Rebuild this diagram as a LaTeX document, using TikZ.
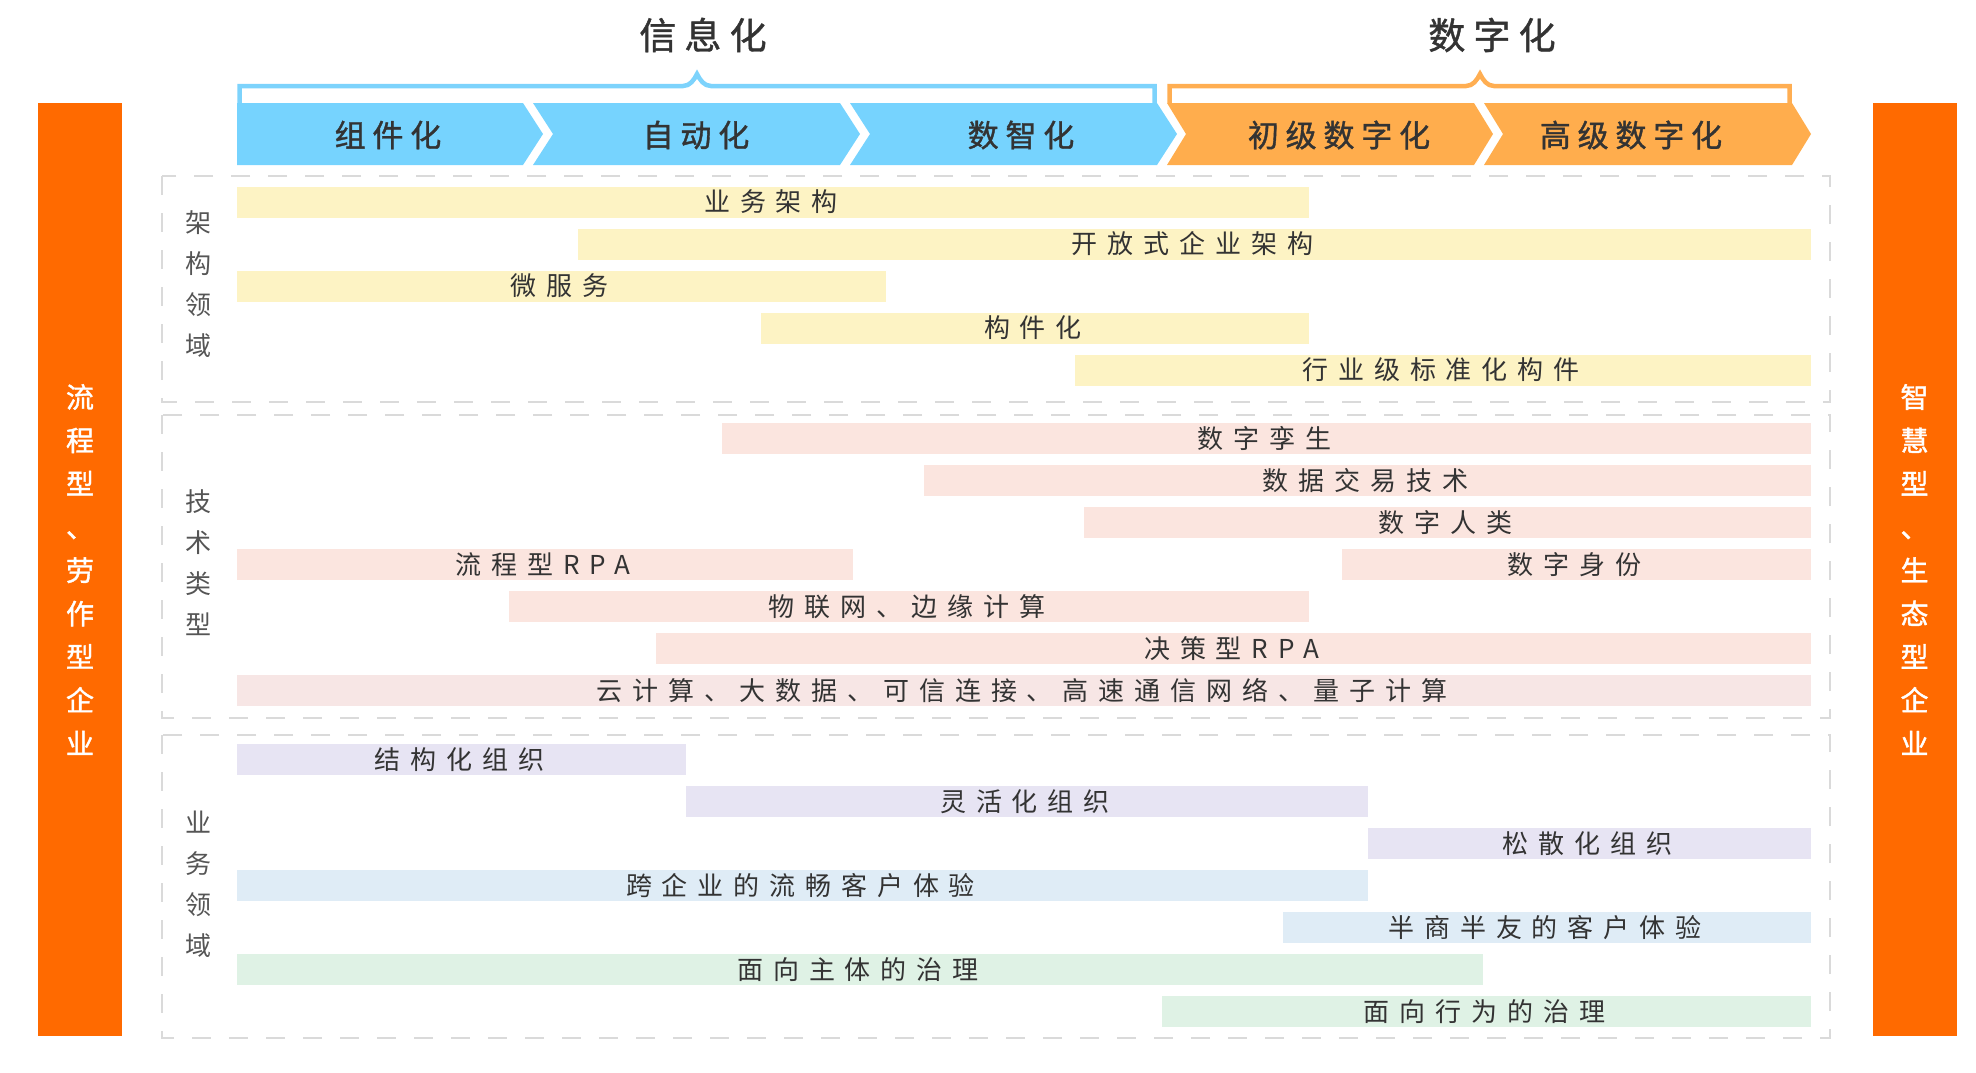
\documentclass[tikz,border=0pt]{standalone}
\usepackage{fontspec}
\newfontfamily\cjk{Noto Sans CJK SC}
\newfontfamily\cjkbar[LetterSpace=38]{Noto Sans CJK SC}
\newfontfamily\cjkhead[LetterSpace=22,FakeBold=1.2]{Noto Sans CJK SC}
\newfontfamily\cjkbold[FakeBold=1.4]{Noto Sans CJK SC}
\definecolor{sideorange}{HTML}{FF6A00}
\definecolor{chevblue}{HTML}{76D3FE}
\definecolor{chevorange}{HTML}{FFAD4D}
\definecolor{brblue}{HTML}{7DD3FC}
\definecolor{brorange}{HTML}{FFAE52}
\definecolor{barY}{HTML}{FDF3C4}
\definecolor{barP}{HTML}{FBE5DF}
\definecolor{barPtwo}{HTML}{F7E6E5}
\definecolor{barV}{HTML}{E7E4F3}
\definecolor{barB}{HTML}{DFECF6}
\definecolor{barG}{HTML}{DFF2E5}
\definecolor{dashgray}{HTML}{DADADA}
\definecolor{txt}{HTML}{333333}
\definecolor{sidetxt}{HTML}{555555}
\newcommand\gbar[6]{\node[gbar, fill=#5, minimum width={(#3-#2)*1pt}] (#1) at ({(#2+#3)/2},#4) {\kern-4pt#6};}
\begin{document}
\begin{tikzpicture}[x=1pt,y=-1pt,
  gbar/.style={rectangle, inner sep=0pt, minimum height=31pt, text=txt, font=\fontsize{26}{30}\selectfont\cjkbar},
  dashbox/.style={draw=dashgray, line width=2.5pt, dash pattern=on 19pt off 18pt},
  sidebar/.style={rectangle, fill=sideorange, inner sep=0pt, minimum width=84pt, minimum height=933pt, text=white, align=center, font=\fontsize{28}{43.3}\selectfont\cjkbold},
  sidelabel/.style={inner sep=0pt, align=center, text=sidetxt, font=\fontsize{26}{41}\selectfont\cjk},
  chevlabel/.style={inner sep=0pt, text=txt, font=\fontsize{31}{34}\selectfont\cjkhead},
  title/.style={inner sep=0pt, text=txt, font=\fontsize{37}{40}\selectfont\cjkhead},
  bracket/.style={line width=4.5pt, line join=miter}
]
\useasboundingbox (0,0) rectangle (1976,1072);

% side bars
\node[sidebar] (lside) at (80,569.5) {流\\程\\型\\、\\劳\\作\\型\\企\\业};
\node[sidebar] (rside) at (1914.5,569.5) {智\\慧\\型\\、\\生\\态\\型\\企\\业};

% titles
\node[title] (t1) at (703,35) {信息化};
\node[title] (t2) at (1492,35) {数字化};

% brackets
\draw[bracket, draw=brblue] (239.5,103) -- (239.5,86) -- (683,86) .. controls (690,86) and (694,80) .. (697,74) .. controls (700,80) and (704,86) .. (711,86) -- (1154.5,86) -- (1154.5,103);
\draw[bracket, draw=brorange] (1169.5,103) -- (1169.5,86) -- (1466,86) .. controls (1473,86) and (1477,80) .. (1480,74) .. controls (1483,80) and (1487,86) .. (1494,86) -- (1789.5,86) -- (1789.5,103);

% chevrons
\fill[chevblue] (237,103) -- (523,103) -- (543,134) -- (523,165) -- (237,165) -- cycle;
\fill[chevblue] (533,103) -- (840,103) -- (860,134) -- (840,165) -- (533,165) -- (553,134) -- cycle;
\fill[chevblue] (850,103) -- (1157,103) -- (1177,134) -- (1157,165) -- (850,165) -- (870,134) -- cycle;
\fill[chevorange] (1167,103) -- (1474,103) -- (1493,134) -- (1474,165) -- (1167,165) -- (1186,134) -- cycle;
\fill[chevorange] (1484,103) -- (1792,103) -- (1811,134) -- (1792,165) -- (1484,165) -- (1503,134) -- cycle;
\node[chevlabel] (c1) at (388,135) {组件化};
\node[chevlabel] (c2) at (696,135) {自动化};
\node[chevlabel] (c3) at (1021,135) {数智化};
\node[chevlabel] (c4) at (1339,135) {初级数字化};
\node[chevlabel] (c5) at (1631,135) {高级数字化};

% dashed boxes
\draw[dashbox] (162,176) rectangle (1830,402);
\draw[dashbox] (162,415) rectangle (1830,718);
\draw[dashbox] (162,735) rectangle (1830,1038);

% side labels
\node[sidelabel] (s1) at (198,284) {架\\构\\领\\域};
\node[sidelabel] (s2) at (198,563) {技\\术\\类\\型};
\node[sidelabel] (s3) at (198,884) {业\\务\\领\\域};

% box 1 bars
\gbar{a1}{237}{1309}{202}{barY}{业务架构}
\gbar{a2}{578}{1811}{244}{barY}{开放式企业架构}
\gbar{a3}{237}{886}{286}{barY}{微服务}
\gbar{a4}{761}{1309}{328}{barY}{构件化}
\gbar{a5}{1075}{1811}{370}{barY}{行业级标准化构件}

% box 2 bars
\gbar{b1}{722}{1811}{438.5}{barP}{数字孪生}
\gbar{b2}{924}{1811}{480.5}{barP}{数据交易技术}
\gbar{b3}{1084}{1811}{522.5}{barP}{数字人类}
\gbar{b4}{237}{853}{564.5}{barP}{流程型RPA}
\gbar{b5}{1342}{1811}{564.5}{barP}{数字身份}
\gbar{b6}{509}{1309}{606.5}{barP}{物联网、边缘计算}
\gbar{b7}{656}{1811}{648.5}{barP}{决策型RPA}
\gbar{b8}{237}{1811}{690.5}{barPtwo}{云计算、大数据、可信连接、高速通信网络、量子计算}

% box 3 bars
\gbar{d1}{237}{686}{759.5}{barV}{结构化组织}
\gbar{d2}{686}{1368}{801.5}{barV}{灵活化组织}
\gbar{d3}{1368}{1811}{843.5}{barV}{松散化组织}
\gbar{d4}{237}{1368}{885.5}{barB}{跨企业的流畅客户体验}
\gbar{d5}{1283}{1811}{927.5}{barB}{半商半友的客户体验}
\gbar{d6}{237}{1483}{969.5}{barG}{面向主体的治理}
\gbar{d7}{1162}{1811}{1011.5}{barG}{面向行为的治理}
\end{tikzpicture}
\end{document}
